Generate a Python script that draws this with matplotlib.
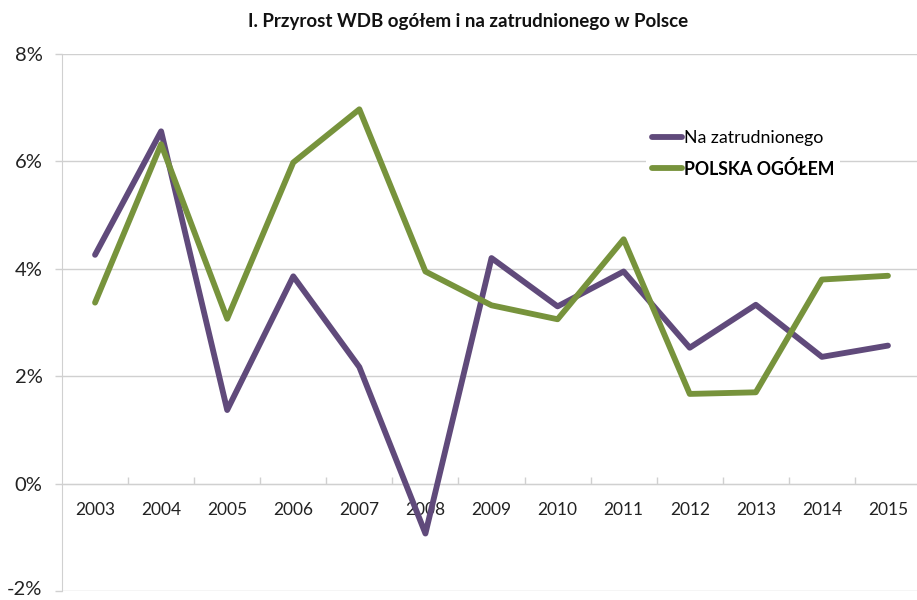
import matplotlib
matplotlib.use("Agg")
import matplotlib.pyplot as plt
from matplotlib.ticker import FixedLocator, FixedFormatter
from matplotlib.transforms import ScaledTranslation

plt.rcParams["font.family"] = ["Lato", "DejaVu Sans"]

# Annual growth of gross value added (%), Poland
years = ["2003", "2004", "2005", "2006", "2007", "2008", "2009",
         "2010", "2011", "2012", "2013", "2014", "2015"]
na_zatrudnionego = [4.26, 6.56, 1.37, 3.86, 2.17, -0.93, 4.20,
                    3.30, 3.95, 2.53, 3.33, 2.36, 2.57]
polska_ogolem = [3.37, 6.32, 3.07, 5.98, 6.97, 3.95, 3.32,
                 3.06, 4.55, 1.67, 1.70, 3.80, 3.87]
y_ticks = [-2, 0, 2, 4, 6, 8]

title = "I. Przyrost WDB ogółem i na zatrudnionego w Polsce"
series_names = ["Na zatrudnionego", "POLSKA OGÓŁEM"]

PURPLE = "#604A7B"
GREEN = "#77933C"
GRID = "#D0D0D0"

fig = plt.figure(figsize=(9.17, 6.0), dpi=100)
ax = fig.add_axes([62 / 917, 9 / 600, 859 / 917, 537 / 600])

x = list(range(len(years)))
ax.plot(x, na_zatrudnionego, color=PURPLE, lw=4.2,
        solid_capstyle="round", solid_joinstyle="round",
        label=series_names[0], zorder=3)
ax.plot(x, polska_ogolem, color=GREEN, lw=4.2,
        solid_capstyle="round", solid_joinstyle="round",
        label=series_names[1], zorder=4)

ax.set_xlim(-0.5, len(years) - 0.5)
ax.set_ylim(y_ticks[0], y_ticks[-1])

# y axis: percent labels and horizontal gridlines
ax.yaxis.set_major_locator(FixedLocator(y_ticks))
ax.yaxis.set_major_formatter(FixedFormatter([f"{v}%" for v in y_ticks]))
ax.tick_params(axis="y", direction="out", length=5, width=1,
               color=GRID, labelsize=14.5, pad=9, labelcolor="#222222")
ax.yaxis.grid(True, color=GRID, lw=1)
ax.set_axisbelow(True)

# keep the lowest percent label inside the canvas
bottom_label = ax.yaxis.get_major_ticks()[0].label1
bottom_label.set_transform(bottom_label.get_transform()
                           + ScaledTranslation(0, 3 / 100, fig.dpi_scale_trans))

# category axis sits on the zero line; ticks between categories
ax.spines["bottom"].set_position(("data", 0))
ax.spines["bottom"].set_color(GRID)
ax.spines["left"].set_color(GRID)
ax.spines["top"].set_visible(False)
ax.spines["right"].set_visible(False)

ax.xaxis.set_major_locator(FixedLocator([i + 0.5 for i in x[:-1]]))
ax.xaxis.set_major_formatter(FixedFormatter([""] * (len(years) - 1)))
ax.xaxis.set_minor_locator(FixedLocator(x))
ax.xaxis.set_minor_formatter(FixedFormatter(years))
ax.tick_params(axis="x", which="major", direction="in", length=5,
               width=1, color=GRID)
ax.tick_params(axis="x", which="minor", length=0, pad=13,
               labelsize=12.5, labelcolor="#222222")

leg = ax.legend(loc="center", bbox_to_anchor=(743 / 917, 1 - 154 / 600),
                bbox_transform=fig.transFigure, frameon=True,
                facecolor="white", edgecolor="none", framealpha=1,
                fancybox=False, fontsize=12.8, handlelength=1.7,
                handletextpad=0.1, labelspacing=0.75, borderpad=0.3)
leg.get_texts()[1].set_fontweight("bold")

fig.text(468 / 917, 1 - 22 / 600, title, ha="center", va="center",
         fontsize=13.5, fontweight="bold", color="#111111")

fig.savefig("out.png", dpi=100, facecolor="white")
